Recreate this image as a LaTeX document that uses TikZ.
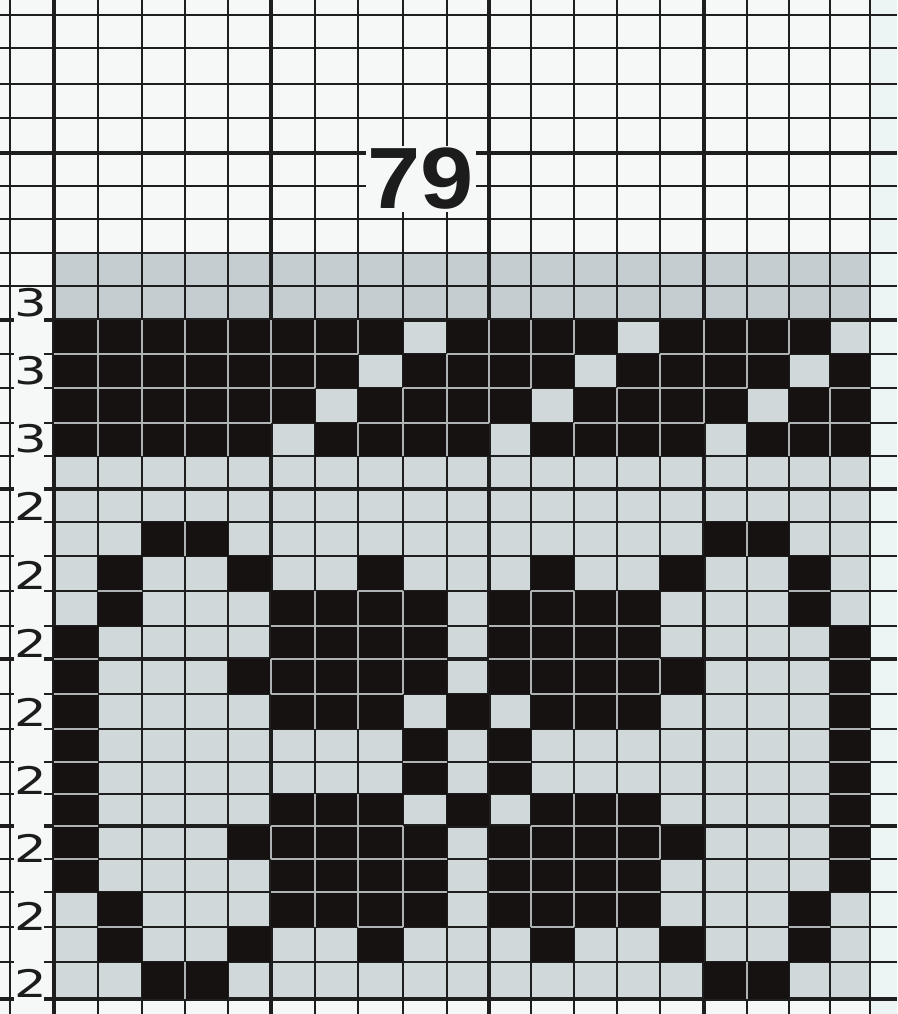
\documentclass[tikz,border=0pt]{standalone}
\usepackage{fontspec}
\setmainfont{Liberation Sans}
\newfontfamily\labfont{DejaVu Sans}
\definecolor{bg}{RGB}{246,248,248}
\definecolor{rightcol}{RGB}{236,244,244}
\definecolor{chartfill}{RGB}{208,216,217}
\definecolor{topfill}{RGB}{198,205,209}
\definecolor{gridcol}{RGB}{30,30,30}
\definecolor{cellblack}{RGB}{22,18,18}
\definecolor{gapcol}{RGB}{176,179,179}
\definecolor{inkcol}{RGB}{28,28,28}
\def\XS{{10,54,98,142,185,228,271,315,358,403,447,489,531,574,617,660,704,747,789,830,870}}
\def\YS{{15,48,84,118,153,186,219,253,286,320,354,388,423,456,489,522,556,591,626,659,694,729,762,794,826,859,892,927,962,999}}
\def\defrow#1#2{\expandafter\def\csname prow#1\endcsname{{#2,0}}}
\defrow{0}{1,1,1,1,1,1,1,1,0,1,1,1,1,0,1,1,1,1,0}
\defrow{1}{1,1,1,1,1,1,1,0,1,1,1,1,0,1,1,1,1,0,1}
\defrow{2}{1,1,1,1,1,1,0,1,1,1,1,0,1,1,1,1,0,1,1}
\defrow{3}{1,1,1,1,1,0,1,1,1,1,0,1,1,1,1,0,1,1,1}
\defrow{4}{0,0,0,0,0,0,0,0,0,0,0,0,0,0,0,0,0,0,0}
\defrow{5}{0,0,0,0,0,0,0,0,0,0,0,0,0,0,0,0,0,0,0}
\defrow{6}{0,0,1,1,0,0,0,0,0,0,0,0,0,0,0,1,1,0,0}
\defrow{7}{0,1,0,0,1,0,0,1,0,0,0,1,0,0,1,0,0,1,0}
\defrow{8}{0,1,0,0,0,1,1,1,1,0,1,1,1,1,0,0,0,1,0}
\defrow{9}{1,0,0,0,0,1,1,1,1,0,1,1,1,1,0,0,0,0,1}
\defrow{10}{1,0,0,0,1,1,1,1,1,0,1,1,1,1,1,0,0,0,1}
\defrow{11}{1,0,0,0,0,1,1,1,0,1,0,1,1,1,0,0,0,0,1}
\defrow{12}{1,0,0,0,0,0,0,0,1,0,1,0,0,0,0,0,0,0,1}
\defrow{13}{1,0,0,0,0,0,0,0,1,0,1,0,0,0,0,0,0,0,1}
\defrow{14}{1,0,0,0,0,1,1,1,0,1,0,1,1,1,0,0,0,0,1}
\defrow{15}{1,0,0,0,1,1,1,1,1,0,1,1,1,1,1,0,0,0,1}
\defrow{16}{1,0,0,0,0,1,1,1,1,0,1,1,1,1,0,0,0,0,1}
\defrow{17}{0,1,0,0,0,1,1,1,1,0,1,1,1,1,0,0,0,1,0}
\defrow{18}{0,1,0,0,1,0,0,1,0,0,0,1,0,0,1,0,0,1,0}
\defrow{19}{0,0,1,1,0,0,0,0,0,0,0,0,0,0,0,1,1,0,0}
\defrow{20}{0,0,0,0,0,0,0,0,0,0,0,0,0,0,0,0,0,0,0}
\tikzset{
  vthin/.style={draw=gridcol,line width=2.3pt},
  vthick/.style={draw=gridcol,line width=3.6pt},
  hthin/.style={draw=gridcol,line width=2.0pt},
  hthick/.style={draw=gridcol,line width=3.4pt},
  gapline/.style={draw=gapcol,line width=1.4pt},
  rowlab/.style={inner sep=0pt,text=inkcol,font=\labfont\fontsize{38}{38}\selectfont},
  titlelab/.style={inner sep=2pt,fill=bg,text=inkcol,font=\bfseries\fontsize{87}{87}\selectfont}
}
\begin{document}
\begin{tikzpicture}[x=1pt,y=-1pt]
\useasboundingbox (0,0) rectangle (897,1014);
\fill[bg] (0,0) rectangle (897,1014);
\fill[rightcol] (870,0) rectangle (897,1014);
\fill[chartfill] (54,253) rectangle (870,999);
\fill[topfill] (54,253) rectangle (870,320);
% grid lines
\foreach \k in {0,...,20}{
  \pgfmathsetmacro\xx{\XS[\k]}
  \draw[vthin] (\xx,0) -- (\xx,1014);
}
\foreach \n in {0,...,29}{
  \pgfmathsetmacro\yy{\YS[\n]}
  \draw[hthin] (0,\yy) -- (897,\yy);
}
\foreach \k in {1,6,11,16}{
  \pgfmathsetmacro\xx{\XS[\k]}
  \draw[vthick] (\xx,0) -- (\xx,1014);
}
\foreach \n in {4,9,14,19,24,29}{
  \pgfmathsetmacro\yy{\YS[\n]}
  \draw[hthick] (0,\yy) -- (897,\yy);
}
% black cells
\foreach \j in {0,...,19}{
  \edef\currow{\csname prow\j\endcsname}
  \pgfmathtruncatemacro\ja{\j+9}
  \pgfmathtruncatemacro\jb{\j+10}
  \pgfmathsetmacro\ya{\YS[\ja]}
  \pgfmathsetmacro\yb{\YS[\jb]}
  \foreach \i in {0,...,18}{
    \pgfmathtruncatemacro\cellC{\currow[\i]}
    \ifnum\cellC=1
      \pgfmathtruncatemacro\ia{\i+1}
      \pgfmathtruncatemacro\ib{\i+2}
      \pgfmathsetmacro\xa{\XS[\ia]}
      \pgfmathsetmacro\xb{\XS[\ib]}
      \fill[cellblack] (\xa,\ya) rectangle (\xb,\yb);
    \fi
  }
}
% light gaps between adjacent black cells
\foreach \j in {0,...,19}{
  \edef\currow{\csname prow\j\endcsname}
  \pgfmathtruncatemacro\jn{\j+1}
  \edef\nxtrow{\csname prow\jn\endcsname}
  \pgfmathtruncatemacro\ja{\j+9}
  \pgfmathtruncatemacro\jb{\j+10}
  \pgfmathsetmacro\ya{\YS[\ja]}
  \pgfmathsetmacro\yb{\YS[\jb]}
  \foreach \i in {0,...,18}{
    \pgfmathtruncatemacro\cellC{\currow[\i]}
    \ifnum\cellC=1
      \pgfmathtruncatemacro\ia{\i+1}
      \pgfmathtruncatemacro\ib{\i+2}
      \pgfmathsetmacro\xa{\XS[\ia]}
      \pgfmathsetmacro\xb{\XS[\ib]}
      \pgfmathtruncatemacro\cellR{\currow[\ia]}
      \pgfmathtruncatemacro\cellD{\nxtrow[\i]}
      \ifnum\cellR=1
        \draw[gapline] (\xb,\ya) -- (\xb,\yb);
      \fi
      \ifnum\cellD=1
        \draw[gapline] (\xa,\yb) -- (\xb,\yb);
      \fi
    \fi
  }
}
% label strip
\fill[bg] (14,288) rectangle (44,1001);
\node[rowlab] (lab1) at (31,303) {\scalebox{1.35}[1]{3}};
\node[rowlab] (lab2) at (31,371) {\scalebox{1.35}[1]{3}};
\node[rowlab] (lab3) at (31,439) {\scalebox{1.35}[1]{3}};
\node[rowlab] (lab4) at (31,506) {\scalebox{1.35}[1]{2}};
\node[rowlab] (lab5) at (31,575) {\scalebox{1.35}[1]{2}};
\node[rowlab] (lab6) at (31,643) {\scalebox{1.35}[1]{2}};
\node[rowlab] (lab7) at (31,712) {\scalebox{1.35}[1]{2}};
\node[rowlab] (lab8) at (31,780) {\scalebox{1.35}[1]{2}};
\node[rowlab] (lab9) at (31,848) {\scalebox{1.35}[1]{2}};
\node[rowlab] (lab10) at (31,916) {\scalebox{1.35}[1]{2}};
\node[rowlab] (lab11) at (31,983) {\scalebox{1.35}[1]{2}};
% title
\node[titlelab] (title) at (421,179) {\scalebox{1.1}[1]{79}};
\end{tikzpicture}
\end{document}
